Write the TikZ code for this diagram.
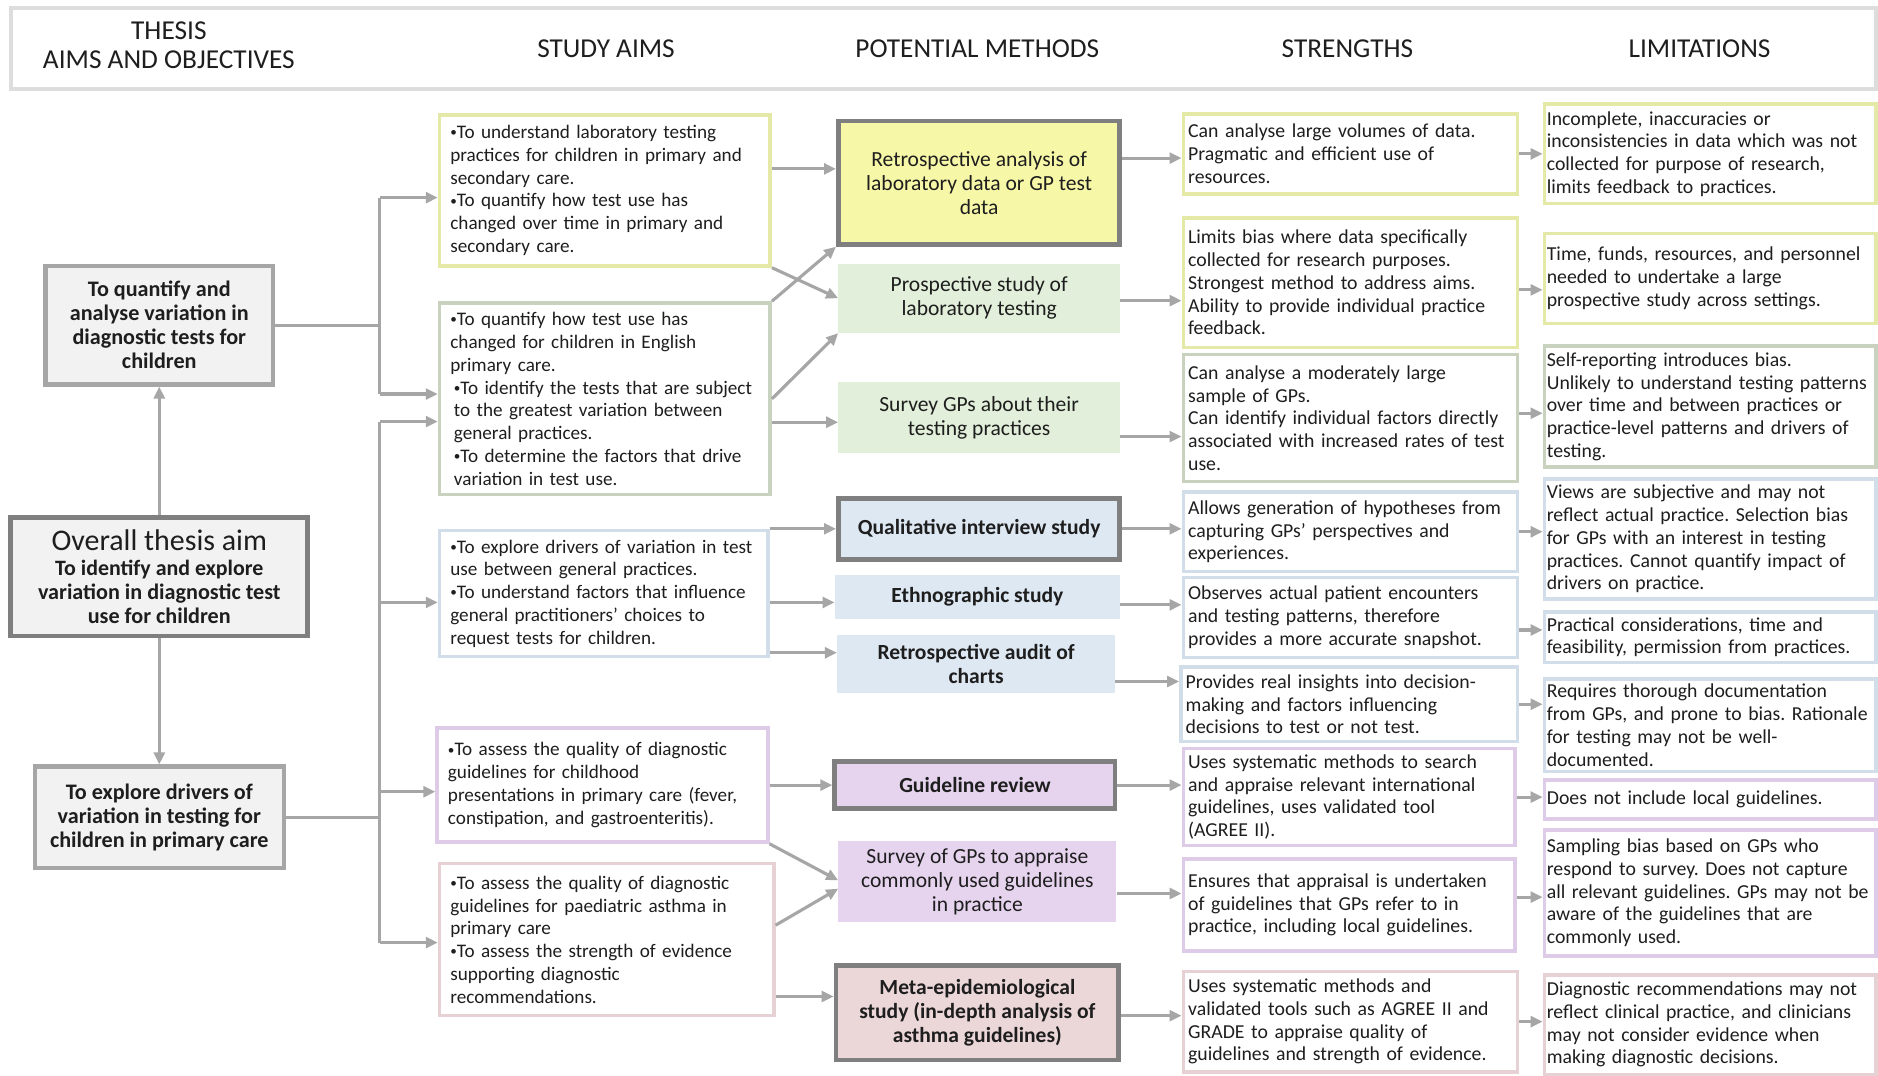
\documentclass[tikz,border=0pt]{standalone}
\usepackage{fontspec}
\setmainfont{Carlito}
\usetikzlibrary{arrows.meta}
\frenchspacing
\definecolor{arrgray}{HTML}{A6A6A6}
\definecolor{hdrgray}{HTML}{DDDDDD}
\definecolor{leftfill}{HTML}{F2F2F2}
\definecolor{leftdraw}{HTML}{A6A6A6}
\definecolor{darkdraw}{HTML}{7F7F7F}
\definecolor{txt}{HTML}{1E1E1E}
\definecolor{yelB}{HTML}{E4E9A8}
\definecolor{sageB}{HTML}{C8D2BE}
\definecolor{blueB}{HTML}{D2DDEA}
\definecolor{lavB}{HTML}{DDCBE7}
\definecolor{pinkB}{HTML}{E6D1D5}
\definecolor{yelF}{HTML}{F7F7A8}
\definecolor{greenF}{HTML}{E2EFDA}
\definecolor{blueF}{HTML}{DEE8F3}
\definecolor{lavF}{HTML}{E6D4EF}
\definecolor{pinkF}{HTML}{EBD6D8}
% small list bullet
\newcommand\bul{\raisebox{0.2ex}{\fontsize{11}{11}\selectfont•}}
\tikzset{
  every node/.style={text=txt, inner sep=0pt},
  bar/.style={draw=arrgray, line width=2.6pt},
  conn/.style={draw=arrgray, line width=2.6pt, -{Triangle[length=10pt,width=9pt]}},
  aimbox/.style={fill=leftfill, draw=leftdraw, line width=3.5pt, align=center,
    font=\fontsize{18.5}{20}\selectfont\bfseries},
  textbox/.style={draw=#1, fill=white, line width=3pt, align=left,
    font=\fontsize{16.5}{19}\selectfont},
  aimtext/.style={font=\fontsize{16}{19}\selectfont},
  method/.style={fill=#1, align=center, font=\fontsize{18}{20}\selectfont},
  boldmethod/.style={font=\fontsize{18}{20}\selectfont\bfseries},
  framed/.style={draw=darkdraw, line width=4pt},
  head/.style={align=center, font=\fontsize{22.8}{24}\selectfont}
}
\begin{document}
\begin{tikzpicture}[x=1pt,y=-1pt]
\useasboundingbox (0,0) rectangle (1568,898);
\fill[white] (0,0) rectangle (1568,898);

% column headings
\node[draw=hdrgray, line width=3.5pt, minimum width=1557pt, minimum height=67pt] (hdr) at (788,40.5) {};
\node[head] (h1) at (141,38) {THESIS\\AIMS AND OBJECTIVES};
\node[head] (h2) at (506,41) {STUDY AIMS};
\node[head] (h3) at (816,41) {POTENTIAL METHODS};
\node[head] (h4) at (1125,41) {STRENGTHS};
\node[head] (h5) at (1419,41) {LIMITATIONS};

% thesis aims
\node[aimbox, minimum width=190pt, minimum height=99pt] (A) at (133,271.5)
  {To quantify and\\analyse variation in\\diagnostic tests for\\children};
\node[aimbox, draw=darkdraw, line width=4pt, minimum width=248pt, minimum height=99pt] (O) at (133,481.5)
  {{\fontsize{25}{25}\selectfont\mdseries Overall thesis aim}\\[1pt]\fontsize{18.3}{20}\selectfont To identify and explore\\variation in diagnostic test\\use for children};
\node[aimbox, minimum width=208pt, minimum height=85pt] (C) at (133,682.5)
  {To explore drivers of\\variation in testing for\\children in primary care};

% study aims
\node[textbox=yelB, aimtext, minimum width=276pt, minimum height=126pt, text width=258pt] (S1) at (505,159)
  {\bul To understand laboratory testing\\practices for children in primary and\\secondary care.\\\bul To quantify how test use has\\changed over time in primary and\\secondary care.};
\node[textbox=sageB, aimtext, minimum width=276pt, minimum height=160pt, text width=258pt] (S2) at (505,333)
  {\bul To quantify how test use has\\changed for children in English\\primary care.\\\hspace*{3pt}\bul To identify the tests that are subject\\\hspace*{3pt}to the greatest variation between\\\hspace*{3pt}general practices.\\\hspace*{3pt}\bul To determine the factors that drive\\\hspace*{3pt}variation in test use.};
\node[textbox=blueB, aimtext, minimum width=274pt, minimum height=105pt, text width=256pt] (S3) at (504,495.5)
  {\bul To explore drivers of variation in test\\use between general practices.\\\bul To understand factors that influence\\general practitioners’ choices to\\request tests for children.};
\node[textbox=lavB, aimtext, minimum width=276pt, minimum height=95pt, text width=258pt] (S4) at (503,655.5)
  {\bul To assess the quality of diagnostic\\guidelines for childhood\\presentations in primary care (fever,\\constipation, and gastroenteritis).};
\node[textbox=pinkB, aimtext, minimum width=279pt, minimum height=127pt, text width=261pt] (S5) at (506.5,784.5)
  {\bul To assess the quality of diagnostic\\guidelines for paediatric asthma in\\primary care\\\bul To assess the strength of evidence\\supporting diagnostic\\recommendations.};

% potential methods
\node[method=yelF, framed, minimum width=235pt, minimum height=103pt] (M1) at (817.5,152.5)
  {Retrospective analysis of\\laboratory data or GP test\\data};
\node[method=greenF, minimum width=235pt, minimum height=58pt] (M2) at (817.5,249)
  {Prospective study of\\laboratory testing};
\node[method=greenF, minimum width=235pt, minimum height=59pt] (M3) at (817.5,348.5)
  {Survey GPs about their\\testing practices};
\node[method=blueF, framed, boldmethod, minimum width=235pt, minimum height=51pt] (M4) at (817.5,441.5)
  {Qualitative interview study};
\node[method=blueF, boldmethod, minimum width=238pt, minimum height=37pt] (M5) at (816,498.5)
  {Ethnographic study};
\node[method=blueF, boldmethod, minimum width=232pt, minimum height=49pt] (M6) at (815,554.5)
  {Retrospective audit of\\charts};
\node[method=lavF, framed, boldmethod, minimum width=234pt, minimum height=39pt] (M7) at (814,655.5)
  {Guideline review};
\node[method=lavF, minimum width=232pt, minimum height=68pt] (M8) at (816,736)
  {Survey of GPs to appraise\\commonly used guidelines\\in practice};
\node[method=pinkF, framed, boldmethod, minimum width=236pt, minimum height=79pt] (M9) at (816,845.5)
  {Meta-epidemiological\\study (in-depth analysis of\\asthma guidelines)};

% strengths
\node[textbox=yelB, minimum width=279pt, minimum height=67pt, text width=271pt] (St1) at (1127.5,128.5)
  {Can analyse large volumes of data.\\Pragmatic and efficient use of\\resources.};
\node[textbox=yelB, minimum width=279pt, minimum height=108pt, text width=271pt] (St2) at (1127.5,236)
  {Limits bias where data specifically\\collected for research purposes.\\Strongest method to address aims.\\Ability to provide individual practice\\feedback.};
\node[textbox=sageB, minimum width=279pt, minimum height=106pt, text width=271pt] (St3) at (1127.5,349)
  {Can analyse a moderately large\\sample of GPs.\\Can identify individual factors directly\\associated with increased rates of test\\use.};
\node[textbox=blueB, minimum width=279pt, minimum height=66pt, text width=271pt] (St4) at (1127.5,444)
  {Allows generation of hypotheses from\\capturing GPs’ perspectives and\\experiences.};
\node[textbox=blueB, minimum width=279pt, minimum height=67pt, text width=271pt] (St5) at (1127.5,515.5)
  {Observes actual patient encounters\\and testing patterns, therefore\\provides a more accurate snapshot.};
\node[textbox=blueB, minimum width=281pt, minimum height=62pt, text width=273pt] (St6) at (1126.5,588)
  {Provides real insights into decision-\\making and factors influencing\\decisions to test or not test.};
\node[textbox=lavB, minimum width=277pt, minimum height=81pt, text width=269pt] (St7) at (1126.5,665.5)
  {Uses systematic methods to search\\and appraise relevant international\\guidelines, uses validated tool\\(AGREE II).};
\node[textbox=lavB, minimum width=277pt, minimum height=77pt, text width=269pt] (St8) at (1126.5,755.5)
  {Ensures that appraisal is undertaken\\of guidelines that GPs refer to in\\practice, including local guidelines.};
\node[textbox=pinkB, minimum width=279pt, minimum height=84pt, text width=271pt] (St9) at (1127.5,853)
  {Uses systematic methods and\\validated tools such as AGREE II and\\GRADE to appraise quality of\\guidelines and strength of evidence.};

% limitations
\node[textbox=yelB, minimum width=277pt, minimum height=83pt, text width=273pt] (L1) at (1428,128.5)
  {Incomplete, inaccuracies or\\inconsistencies in data which was not\\collected for purpose of research,\\limits feedback to practices.};
\node[textbox=yelB, minimum width=277pt, minimum height=75pt, text width=273pt] (L2) at (1428,232.5)
  {Time, funds, resources, and personnel\\needed to undertake a large\\prospective study across settings.};
\node[textbox=sageB, minimum width=277pt, minimum height=101pt, text width=273pt] (L3) at (1428,339.5)
  {Self-reporting introduces bias.\\Unlikely to understand testing patterns\\over time and between practices or\\practice-level patterns and drivers of\\testing.};
\node[textbox=blueB, minimum width=277pt, minimum height=100pt, text width=273pt] (L4) at (1428,450)
  {Views are subjective and may not\\reflect actual practice. Selection bias\\for GPs with an interest in testing\\practices. Cannot quantify impact of\\drivers on practice.};
\node[textbox=blueB, minimum width=277pt, minimum height=42pt, text width=273pt] (L5) at (1428,532)
  {Practical considerations, time and\\feasibility, permission from practices.};
\node[textbox=blueB, minimum width=277pt, minimum height=77pt, text width=273pt] (L6) at (1428,605.5)
  {Requires thorough documentation\\from GPs, and prone to bias. Rationale\\for testing may not be well-\\documented.};
\node[textbox=lavB, minimum width=277pt, minimum height=33pt, text width=273pt] (L7) at (1428,667.5)
  {Does not include local guidelines.};
\node[textbox=lavB, minimum width=277pt, minimum height=105pt, text width=273pt] (L8) at (1428,745.5)
  {Sampling bias based on GPs who\\respond to survey. Does not capture\\all relevant guidelines. GPs may not be\\aware of the guidelines that are\\commonly used.};
\node[textbox=pinkB, minimum width=277pt, minimum height=83pt, text width=273pt] (L9) at (1428,855.5)
  {Diagnostic recommendations may not\\reflect clinical practice, and clinicians\\may not consider evidence when\\making diagnostic decisions.};

% links between the thesis aims
\draw[conn] (O.north) -- (A.south);
\draw[conn] (O.south) -- (C.north);

% branch from the first objective
\coordinate (b1t) at (317,165);
\coordinate (b1b) at (317,329);
\draw[bar] (b1t) -- (b1b);
\draw[bar] (A.east) -- (A.east -| b1t);
\draw[conn] (b1t) -- (b1t -| S1.west);
\draw[conn] (b1b) -- (b1b -| S2.west);

% branch from the second objective
\coordinate (b2a) at (317,352);
\coordinate (b2b) at (317,503);
\coordinate (b2c) at (317,661);
\coordinate (b2d) at (317,787);
\draw[bar] (b2a) -- (b2d);
\draw[bar] (C.east) -- (C.east -| b2a);
\draw[conn] (b2a) -- (b2a -| S2.west);
\draw[conn] (b2b) -- (b2b -| S3.west);
\draw[conn] (b2c) -- (b2c -| S4.west);
\draw[conn] (b2d) -- (b2d -| S5.west);

% study aims to methods
\coordinate (m1in) at ([yshift=11.5pt]M1.west);
\draw[conn] (S1.east |- m1in) -- (m1in);
\draw[conn] (S1.south east) -- (M2.west);
\draw[conn] (S2.north east) -- (M1.south west);
\draw[conn] (S2.east) -- (M2.south west);
\coordinate (m3in) at ([yshift=-4pt]M3.west);
\draw[conn] (S2.east |- m3in) -- (m3in);
\draw[conn] (S3.east |- M4.west) -- (M4.west);
\coordinate (m5in) at ([yshift=-4.5pt]M5.west);
\draw[conn] (S3.east |- m5in) -- (m5in);
\coordinate (m6in) at ([yshift=9.5pt]M6.west);
\draw[conn] (S3.east |- m6in) -- (m6in);
\draw[conn] (S4.east |- M7.west) -- (M7.west);
\draw[conn] (S4.south east) -- ([yshift=1pt]M8.west);
\draw[conn] ([yshift=12pt]S5.east) -- ([yshift=-6pt]M8.west);
\coordinate (m9in) at ([yshift=13.5pt]M9.west);
\draw[conn] (S5.east |- m9in) -- (m9in);

% methods to strengths
\coordinate (s1in) at ([yshift=-3.5pt]St1.west);
\draw[conn] (M1.east |- s1in) -- (s1in);
\draw[conn] ([yshift=-2pt]M2.east) -- ([yshift=-2pt]M2.east -| St2.west);
\coordinate (m3out) at ([yshift=-16pt]M3.east);
\draw[conn] (m3out) -- (m3out -| St3.west);
\draw[conn] (M4.east) -- (M4.east -| St4.west);
\coordinate (m5out) at ([yshift=-6.5pt]M5.east);
\draw[conn] (m5out) -- (m5out -| St5.west);
\coordinate (m6out) at ([yshift=-14.5pt]M6.east);
\draw[conn] (m6out) -- (m6out -| St6.west);
\draw[conn] (M7.east) -- (M7.east -| St7.west);
\coordinate (m8out) at ([yshift=-10pt]M8.east);
\draw[conn] (m8out) -- (m8out -| St8.west);
\coordinate (m9out) at ([yshift=-2.5pt]M9.east);
\draw[conn] (m9out) -- (m9out -| St9.west);

% strengths to limitations
\draw[conn] (St1.east) -- (St1.east -| L1.west);
\coordinate (t2) at ([yshift=-6pt]St2.east);
\draw[conn] (t2) -- (t2 -| L2.west);
\coordinate (t3) at ([yshift=4pt]St3.east);
\draw[conn] (t3) -- (t3 -| L3.west);
\draw[conn] (St4.east) -- (St4.east -| L4.west);
\coordinate (t5) at ([yshift=-10.5pt]St5.east);
\draw[conn] (t5) -- (t5 -| L5.west);
\draw[conn] (St6.east) -- (St6.east -| L6.west);
\draw[conn] (St7.east) -- (St7.east -| L7.west);
\coordinate (t8) at ([yshift=6.5pt]St8.east);
\draw[conn] (t8) -- (t8 -| L8.west);
\draw[conn] (St9.east) -- (St9.east -| L9.west);
\end{tikzpicture}
\end{document}
